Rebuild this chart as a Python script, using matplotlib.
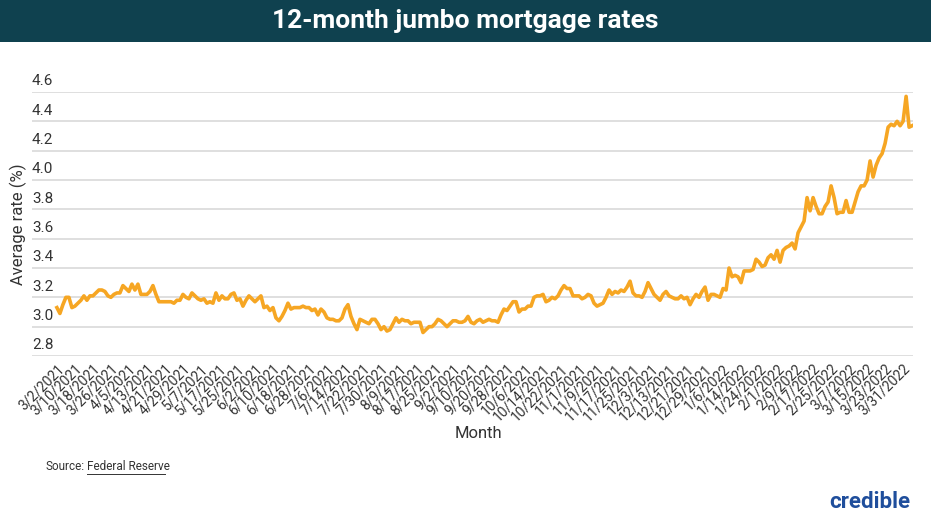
import numpy as np
import pandas as pd
import matplotlib.pyplot as plt
from matplotlib.transforms import blended_transform_factory

# Valores diarios (dias habiles), 3/2/2021 - 4/5/2022
tasas = [
    3.13, 3.09, 3.15, 3.20, 3.20, 3.13,
    3.14, 3.16, 3.18, 3.21, 3.18, 3.21,
    3.21, 3.23, 3.25, 3.25, 3.24, 3.21,
    3.20, 3.22, 3.23, 3.23, 3.28, 3.26,
    3.24, 3.29, 3.25, 3.29, 3.22, 3.22,
    3.22, 3.24, 3.28, 3.22, 3.17, 3.17,
    3.17, 3.17, 3.17, 3.16, 3.18, 3.18,
    3.22, 3.20, 3.19, 3.23, 3.21, 3.19,
    3.18, 3.19, 3.16, 3.17, 3.16, 3.23,
    3.18, 3.21, 3.19, 3.19, 3.22, 3.23,
    3.18, 3.19, 3.14, 3.18, 3.21, 3.19,
    3.17, 3.19, 3.21, 3.13, 3.14, 3.11,
    3.13, 3.06, 3.04, 3.07, 3.11, 3.16,
    3.12, 3.13, 3.13, 3.13, 3.14, 3.13,
    3.13, 3.11, 3.12, 3.08, 3.12, 3.10,
    3.06, 3.05, 3.05, 3.04, 3.04, 3.06,
    3.12, 3.15, 3.07, 3.02, 2.98, 3.05,
    3.04, 3.03, 3.02, 3.05, 3.05, 3.02,
    2.98, 3.00, 2.97, 2.98, 3.02, 3.06,
    3.03, 3.05, 3.04, 3.04, 3.02, 3.03,
    3.03, 3.03, 2.96, 2.98, 3.00, 3.00,
    3.02, 3.05, 3.04, 3.02, 3.00, 3.02,
    3.04, 3.04, 3.03, 3.03, 3.04, 3.07,
    3.03, 3.02, 3.04, 3.05, 3.03, 3.04,
    3.05, 3.04, 3.04, 3.03, 3.08, 3.12,
    3.11, 3.14, 3.17, 3.17, 3.10, 3.12,
    3.12, 3.14, 3.14, 3.20, 3.21, 3.21,
    3.22, 3.17, 3.18, 3.20, 3.19, 3.21,
    3.25, 3.28, 3.26, 3.26, 3.21, 3.21,
    3.21, 3.19, 3.20, 3.22, 3.21, 3.16,
    3.14, 3.15, 3.16, 3.20, 3.25, 3.22,
    3.24, 3.23, 3.25, 3.24, 3.27, 3.31,
    3.23, 3.21, 3.21, 3.20, 3.24, 3.30,
    3.26, 3.22, 3.20, 3.18, 3.22, 3.24,
    3.21, 3.20, 3.19, 3.19, 3.21, 3.19,
    3.20, 3.15, 3.19, 3.22, 3.20, 3.24,
    3.27, 3.18, 3.22, 3.22, 3.21, 3.20,
    3.26, 3.25, 3.40, 3.34, 3.35, 3.34,
    3.30, 3.38, 3.38, 3.38, 3.39, 3.46,
    3.44, 3.41, 3.42, 3.47, 3.49, 3.46,
    3.52, 3.44, 3.52, 3.54, 3.55, 3.57,
    3.53, 3.64, 3.68, 3.72, 3.88, 3.79,
    3.88, 3.82, 3.77, 3.77, 3.82, 3.85,
    3.96, 3.88, 3.77, 3.78, 3.78, 3.86,
    3.78, 3.78, 3.85, 3.92, 3.96, 3.96,
    4.00, 4.13, 4.02, 4.10, 4.15, 4.18,
    4.25, 4.36, 4.38, 4.37, 4.40, 4.37,
    4.40, 4.57, 4.36, 4.37,
]
fechas = pd.bdate_range('2021-03-02', periods=len(tasas))
etiquetas = [f'{d.month}/{d.day}/{d.year}' for d in fechas]
y_ticks = [2.8, 3.0, 3.2, 3.4, 3.6, 3.8, 4.0, 4.2, 4.4, 4.6]

NARANJA = '#F6A623'
TEAL = '#0F414F'
GRIS = '#333333'

fig = plt.figure(figsize=(9.31, 5.23), dpi=100)
plt.rcParams['font.family'] = 'Roboto'

# Banner del titulo
banner = fig.add_axes([0, 1 - 42 / 523, 1, 42 / 523])
banner.set_facecolor(TEAL)
banner.set_xticks([])
banner.set_yticks([])
for s in banner.spines.values():
    s.set_visible(False)
banner.text(0.5, 0.5, '12-month jumbo mortgage rates', color='white',
            fontsize=19, fontweight='bold', ha='center', va='center',
            transform=banner.transAxes)

ax = fig.add_axes([32 / 931, 1 - 356 / 523, (913 - 32) / 931, (356 - 92) / 523])
x = np.arange(len(tasas))
ax.plot(x, tasas, color=NARANJA, lw=2.6, solid_joinstyle='round')
ax.set_xlim(-8.3, len(tasas) - 1 + 0.3)
ax.set_ylim(2.8, 4.6)
ax.set_yticks(y_ticks)
ax.set_yticklabels([])
ax.tick_params(axis='y', length=0)
ax.grid(axis='y', color='#d9d9d9', lw=1.2)
ax.set_axisbelow(True)
for s in ax.spines.values():
    s.set_visible(False)

trans = blended_transform_factory(ax.transAxes, ax.transData)
for v in y_ticks:
    ax.text(0, v + 0.025, f'{v:.1f}', transform=trans, ha='left', va='bottom',
            fontsize=11, color=GRIS)

ticks = x[::6][:48]
ax.set_xticks(ticks)
ax.set_xticklabels([etiquetas[i] for i in ticks], rotation=45, ha='right',
                   rotation_mode='anchor', fontsize=10, color=GRIS)
ax.tick_params(axis='x', length=0, pad=4)

fig.text(18 / 931, 1 - 224 / 523, 'Average rate (%)', rotation=90,
         ha='center', va='center', fontsize=12, color=GRIS)
fig.text(478 / 931, 1 - 434 / 523, 'Month', ha='center', va='center',
         fontsize=12, color=GRIS)
fig.text(45 / 931, 1 - 467 / 523, 'Source:', ha='left', va='center',
         fontsize=8.5, color=GRIS)
fig.text(87 / 931, 1 - 467 / 523, 'Federal Reserve', ha='left', va='center',
         fontsize=8.5, color=GRIS)
fig.add_artist(plt.Line2D([87 / 931, 165 / 931], [1 - 474 / 523] * 2,
                          color=GRIS, lw=0.7))
fig.text(910 / 931, 1 - 502 / 523, 'credible', ha='right', va='center',
         fontsize=16, fontweight='bold', color='#1F4E9C')

fig.savefig('out.png', dpi=100)
